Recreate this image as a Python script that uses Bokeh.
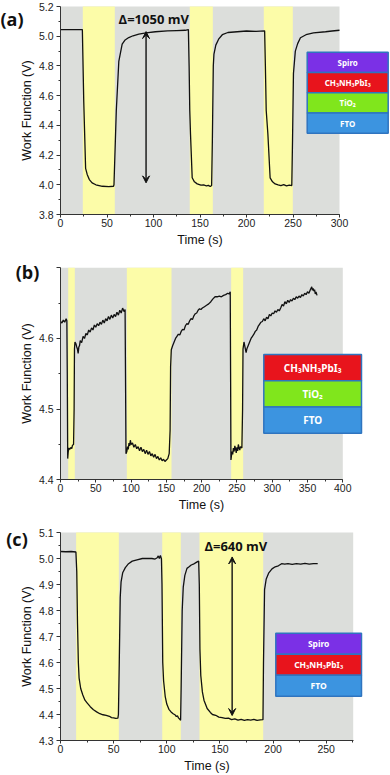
from bokeh.plotting import figure
from bokeh.layouts import column
from bokeh.models import (Range1d, SingleIntervalTicker, FixedTicker, Label, Arrow, VeeHead,
                          PrintfTickFormatter)
from bokeh.embed import file_html
from bokeh.resources import INLINE
from bokeh.core.properties import value

# ---------------- data ----------------
# Panel (a): Spiro / CH3NH3PbI3 / TiO2 / FTO
a_time = [0, 10, 20, 23.5, 25, 27, 28.7, 31, 34, 38, 45, 52, 57, 57.5, 60, 62.7, 66.3, 69.5, 73.4, 78,
          84.2, 92, 102, 115, 125, 134, 137.5, 138.3, 139, 139.8, 141.6, 144, 147, 151, 154, 157, 159,
          161, 162.5, 163.3, 164.3, 165, 167, 170, 174, 180, 190, 200, 210, 219.5, 220.3, 221.2, 223,
          225.4, 228, 230.8, 234, 237, 240, 243, 246, 248.7, 249.5, 250.5, 252.5, 255, 258, 264, 272,
          285, 292, 300]
a_wf = [5.045, 5.045, 5.044, 5.045, 4.56, 4.11, 4.07, 4.035, 4.013, 4.0, 3.99, 3.988, 3.99, 4.0, 4.5,
        4.83, 4.946, 4.975, 4.991, 5.003, 5.014, 5.022, 5.03, 5.036, 5.038, 5.04, 5.045, 4.8, 4.5, 4.34,
        4.047, 4.02, 4.006, 3.998, 4.0, 3.992, 3.996, 3.988, 3.995, 4.3, 4.8, 4.88, 4.94, 4.98, 5.01,
        5.025, 5.03, 5.035, 5.033, 5.036, 4.8, 4.5, 4.34, 4.047, 4.02, 4.006, 4.0, 3.995, 4.001, 3.993,
        3.998, 3.995, 4.3, 4.75, 4.9, 4.95, 4.99, 5.01, 5.022, 5.03, 5.035, 5.04]
a_light = [(24.0, 58.4), (139.0, 163.8), (218.6, 249.8)]

# Panel (b): CH3NH3PbI3 / TiO2 / FTO
b_time = [0, 2, 4, 6, 8, 9, 9.6, 10.2, 11, 12, 13, 15, 16, 17, 18.5, 19.3, 19.8, 20.5, 22, 23, 24, 25, 26,
          27, 28, 30, 32, 34, 36, 38, 40, 42, 44, 46, 48, 50, 52, 54, 56, 58, 60, 62, 64, 66, 68, 70, 72,
          74, 76, 78, 80, 82, 84, 86, 88, 90, 91.5, 92.1, 92.8, 94, 95, 96, 97, 98, 99, 100, 102, 104, 106,
          108, 110, 112, 114, 116, 118, 120, 122, 124, 126, 128, 130, 132, 134, 136, 138, 140, 142, 144,
          146, 148, 150, 152, 154, 155.3, 156, 157, 159, 161, 163, 165, 167, 169, 171, 173, 175, 177, 179,
          181, 183, 185, 187, 189, 191, 193, 195, 197, 199, 201, 204, 207, 210, 213, 216, 219, 222, 225,
          228, 231, 234, 237, 239, 240.5, 241, 241.5, 243, 244, 245, 246, 247, 248, 249, 250, 251, 252,
          253, 254, 255, 257, 258, 258.6, 260, 261, 262, 263, 264, 266, 268, 270, 272, 274, 276, 278, 280,
          282, 284, 286, 288, 290, 292, 294, 296, 298, 300, 302, 304, 306, 308, 310, 312, 314, 316, 318,
          320, 322, 324, 326, 328, 330, 332, 334, 336, 338, 340, 342, 344, 346, 348, 350, 352, 354, 356,
          357, 358, 359, 360, 361, 362, 363.5]
b_wf = [4.624, 4.622, 4.626, 4.623, 4.628, 4.625, 4.55, 4.43, 4.44, 4.445, 4.443, 4.446, 4.444, 4.449,
        4.45, 4.5, 4.585, 4.595, 4.592, 4.588, 4.585, 4.579, 4.588, 4.59, 4.597, 4.594, 4.603, 4.6, 4.607,
        4.605, 4.612, 4.609, 4.615, 4.612, 4.619, 4.616, 4.621, 4.618, 4.623, 4.62, 4.626, 4.622, 4.628,
        4.625, 4.631, 4.627, 4.633, 4.629, 4.634, 4.631, 4.637, 4.633, 4.64, 4.636, 4.643, 4.638, 4.641,
        4.55, 4.437, 4.44, 4.447, 4.443, 4.452, 4.448, 4.456, 4.45, 4.452, 4.446, 4.45, 4.444, 4.447,
        4.441, 4.446, 4.44, 4.443, 4.437, 4.442, 4.436, 4.44, 4.434, 4.437, 4.432, 4.436, 4.43, 4.433,
        4.428, 4.431, 4.427, 4.429, 4.426, 4.428, 4.43, 4.437, 4.47, 4.56, 4.584, 4.59, 4.595, 4.6, 4.603,
        4.606, 4.605, 4.61, 4.613, 4.612, 4.618, 4.621, 4.62, 4.625, 4.628, 4.627, 4.632, 4.635, 4.636,
        4.64, 4.642, 4.641, 4.643, 4.645, 4.647, 4.649, 4.652, 4.656, 4.659, 4.659, 4.66, 4.659, 4.661,
        4.662, 4.664, 4.663, 4.666, 4.55, 4.428, 4.44, 4.436, 4.445, 4.44, 4.448, 4.444, 4.438, 4.446,
        4.441, 4.45, 4.445, 4.442, 4.447, 4.445, 4.5, 4.585, 4.595, 4.59, 4.585, 4.58, 4.585, 4.59, 4.595,
        4.6, 4.603, 4.606, 4.61, 4.612, 4.617, 4.62, 4.623, 4.624, 4.628, 4.625, 4.63, 4.628, 4.634,
        4.632, 4.636, 4.635, 4.639, 4.637, 4.641, 4.639, 4.643, 4.648, 4.646, 4.652, 4.649, 4.654, 4.651,
        4.655, 4.653, 4.657, 4.655, 4.659, 4.657, 4.66, 4.658, 4.662, 4.66, 4.664, 4.662, 4.666, 4.664,
        4.669, 4.673, 4.668, 4.671, 4.667, 4.669, 4.663, 4.666, 4.661]
b_light = [(10.9, 20.3), (94.0, 157.3), (241.8, 258.8)]

# Panel (c): Spiro / CH3NH3PbI3 / FTO
c_time = [0, 5, 10, 14.5, 15.3, 16, 16.8, 17.5, 19, 21, 23, 25, 28, 31, 34, 37, 40, 43, 46, 48, 50, 52,
          54, 54.5, 55.3, 56.2, 57, 58.5, 61, 64, 67.5, 72, 77, 82, 86, 89, 91, 92, 93, 94, 95, 95.5, 96.2,
          97, 98.5, 100, 102, 104, 106, 108, 109, 110, 111, 112, 113, 113.5, 114.5, 115.5, 117, 119, 121,
          123, 125, 127, 129, 130, 130.6, 131.2, 132, 133.5, 135, 138, 141, 143, 146, 149, 152, 155, 158,
          161, 164, 167, 170, 173, 176, 179, 182, 185, 188, 190.5, 191, 192, 193.5, 196, 199, 202, 205, 208,
          211, 214, 218, 222, 226, 230, 234, 238, 242]
c_wf = [5.027, 5.026, 5.027, 5.025, 4.95, 4.75, 4.6, 4.54, 4.5, 4.475, 4.455, 4.445, 4.43, 4.418, 4.41,
        4.403, 4.399, 4.397, 4.393, 4.388, 4.387, 4.385, 4.386, 4.4, 4.6, 4.85, 4.91, 4.945, 4.965, 4.98,
        4.99, 4.995, 5.0, 5.0, 5.0, 4.998, 5.003, 5.01, 5.0, 5.012, 4.998, 4.9, 4.6, 4.53, 4.47, 4.44,
        4.42, 4.41, 4.403, 4.398, 4.392, 4.395, 4.387, 4.383, 4.378, 4.5, 4.8, 4.89, 4.935, 4.962, 4.968,
        4.975, 4.978, 4.983, 4.988, 4.99, 4.9, 4.65, 4.55, 4.487, 4.455, 4.423, 4.408, 4.4, 4.397, 4.39,
        4.388, 4.385, 4.386, 4.38, 4.383, 4.378, 4.381, 4.377, 4.38, 4.378, 4.381, 4.377, 4.379, 4.38,
        4.6, 4.88, 4.92, 4.945, 4.96, 4.968, 4.972, 4.98, 4.978, 4.98, 4.977, 4.98, 4.978, 4.981, 4.978,
        4.98, 4.98]
c_light = [(14.7, 54.9), (95.7, 113.2), (130.8, 190.7)]

layers_a = ["Spiro", "CH₃NH₃PbI₃", "TiO₂", "FTO"]
layers_b = ["CH₃NH₃PbI₃", "TiO₂", "FTO"]
layers_c = ["Spiro", "CH₃NH₃PbI₃", "FTO"]
layer_colors = {"Spiro": "#7b30e6", "CH₃NH₃PbI₃": "#e8141c", "TiO₂": "#80e61c", "FTO": "#3c94e0"}

GRAY = "#dcdedb"
YELLOW = "#fcfca8"
TICK_FONT = "Liberation Sans"
LABEL_FONT = "Liberation Sans"
FIG_W = 390
AXIS_X = 60          # screen x of time zero


def make_panel(time, wf, light, x_per_px, axis_end, yr, yticks, yminor, ylabel_over,
               fig_h, top_px, bot_px, tag, tag_px, layers, lay_px, lay_font, delta=None):
    ylo, yhi = yr
    sy = (bot_px - top_px) / (yhi - ylo)          # px per unit
    y_start = ylo - (fig_h - bot_px) / sy
    y_end = yhi + top_px / sy
    sx = x_per_px
    x_start = -AXIS_X / sx
    x_end = (FIG_W - AXIS_X) / sx

    def dx(px):
        return (px - AXIS_X) / sx

    def dy(py):
        return yhi - (py - top_px) / sy

    p = figure(width=FIG_W, height=fig_h, x_range=Range1d(x_start, x_end), y_range=Range1d(y_start, y_end),
               output_backend="svg", toolbar_location=None,
               min_border=0, min_border_left=0, min_border_right=0, min_border_top=0, min_border_bottom=0)
    p.outline_line_color = None
    p.grid.visible = False
    p.background_fill_color = "white"
    p.border_fill_color = "white"

    # shading
    p.quad(left=[0], right=[axis_end], bottom=[ylo], top=[yhi], color=GRAY, line_color=None)
    p.quad(left=[l[0] for l in light], right=[l[1] for l in light],
           bottom=[ylo] * len(light), top=[yhi] * len(light), color=YELLOW, line_color=None)

    p.line(time, wf, line_color="#111111", line_width=1.3)

    # layer stack inset
    n = len(layers)
    lx0, lx1, ly0, ly1 = dx(lay_px[0]), dx(lay_px[1]), dy(lay_px[2]), dy(lay_px[3])
    h = (ly0 - ly1) / n
    tops = [ly0 - i * h for i in range(n)]
    bots = [t - h for t in tops]
    p.quad(left=[lx0] * n, right=[lx1] * n, top=tops, bottom=bots,
           fill_color=[layer_colors[k] for k in layers], line_color="#2f74bf", line_width=1.5)
    p.text(x=[(lx0 + lx1) / 2] * n, y=[(t + b) / 2 for t, b in zip(tops, bots)], text=layers,
           text_font=value("Noto Sans"), text_font_style="bold", text_font_size=lay_font,
           text_color="white", text_align="center", text_baseline="middle")

    if delta is not None:
        (ax, ay0, ay1, txt, tx, ty) = delta
        p.add_layout(Arrow(start=VeeHead(size=7, line_color="#111111", fill_color="#111111", line_width=1),
                           end=VeeHead(size=7, line_color="#111111", fill_color="#111111", line_width=1),
                           x_start=ax, y_start=ay0, x_end=ax, y_end=ay1,
                           line_color="#111111", line_width=1.4))
        p.add_layout(Label(x=tx, y=ty, text=txt, text_font="Open Sans", text_font_style="bold",
                           text_font_size="13px", text_color="#111111",
                           text_align="center", text_baseline="middle"))

    p.add_layout(Label(x=dx(tag_px[0]), y=dy(tag_px[1]), text=tag, text_font="Open Sans",
                       text_font_style="bold", text_font_size="18px", text_color="#111111",
                       text_align="center", text_baseline="middle"))

    for ax_ in (p.xaxis[0], p.yaxis[0]):
        ax_.axis_line_color = "#333333"
        ax_.major_tick_line_color = "#333333"
        ax_.minor_tick_line_color = "#333333"
        ax_.major_tick_in = 0
        ax_.major_tick_out = 4
        ax_.minor_tick_in = 0
        ax_.minor_tick_out = 2
        ax_.major_label_text_font = TICK_FONT
        ax_.major_label_text_font_size = "10.5px"
        ax_.major_label_text_color = "#222222"
        ax_.axis_label_text_font = LABEL_FONT
        ax_.axis_label_text_font_style = "normal"
        ax_.axis_label_text_font_size = "12.5px"
        ax_.axis_label_text_color = "#111111"

    p.xaxis.fixed_location = ylo
    p.xaxis.bounds = (0, axis_end)
    p.xaxis.ticker = SingleIntervalTicker(interval=50, num_minor_ticks=2)
    p.xaxis.axis_label = "Time (s)"
    p.xaxis.major_tick_out = 3
    p.xaxis.major_label_standoff = 1
    p.xaxis.axis_label_standoff = 3

    p.yaxis.fixed_location = 0
    p.yaxis.bounds = (ylo, yhi)
    p.yaxis.ticker = FixedTicker(ticks=yticks, minor_ticks=yminor)
    p.yaxis.formatter = PrintfTickFormatter(format="%.1f")
    p.yaxis.major_label_overrides = ylabel_over
    p.yaxis.axis_label = "Work Function (V)"
    p.yaxis.major_label_standoff = 3
    p.yaxis.axis_label_standoff = 2
    return p


pa = make_panel(a_time, a_wf, a_light, 0.93, 300, (3.8, 5.2),
                [3.8, 4.0, 4.2, 4.4, 4.6, 4.8, 5.0, 5.2], [3.9, 4.1, 4.3, 4.5, 4.7, 4.9, 5.1], {},
                257, 6, 214, "(a)", (11.5, 18), layers_a, (306.7, 387.7, 51.7, 132.7), "8px",
                delta=(92, 4.013, 5.031, "Δ=1050 mV", 100.3, 5.115))
pb = make_panel(b_time, b_wf, b_light, 0.70575, 400, (4.4, 4.7),
                [4.4, 4.5, 4.6, 4.7], [4.45, 4.55, 4.65], {4.7: ""},
                260, 10.3, 222.3, "(b)", (27, 14.7), layers_b, (263.3, 361, 97, 175.7), "10px")
pc = make_panel(c_time, c_wf, c_light, 1.0628, 275.4, (4.3, 5.1),
                [4.3, 4.4, 4.5, 4.6, 4.7, 4.8, 4.9, 5.0, 5.1],
                [4.35, 4.45, 4.55, 4.65, 4.75, 4.85, 4.95, 5.05], {},
                258, 15, 223, "(c)", (16.5, 21), layers_c, (275.3, 361, 115.7, 178.7), "8.5px",
                delta=(161.5, 4.396, 5.006, "Δ=640 mV", 165, 5.05))

layout = column(pa, pb, pc, spacing=0)

open("out.html", "w").write(file_html(layout, INLINE))
